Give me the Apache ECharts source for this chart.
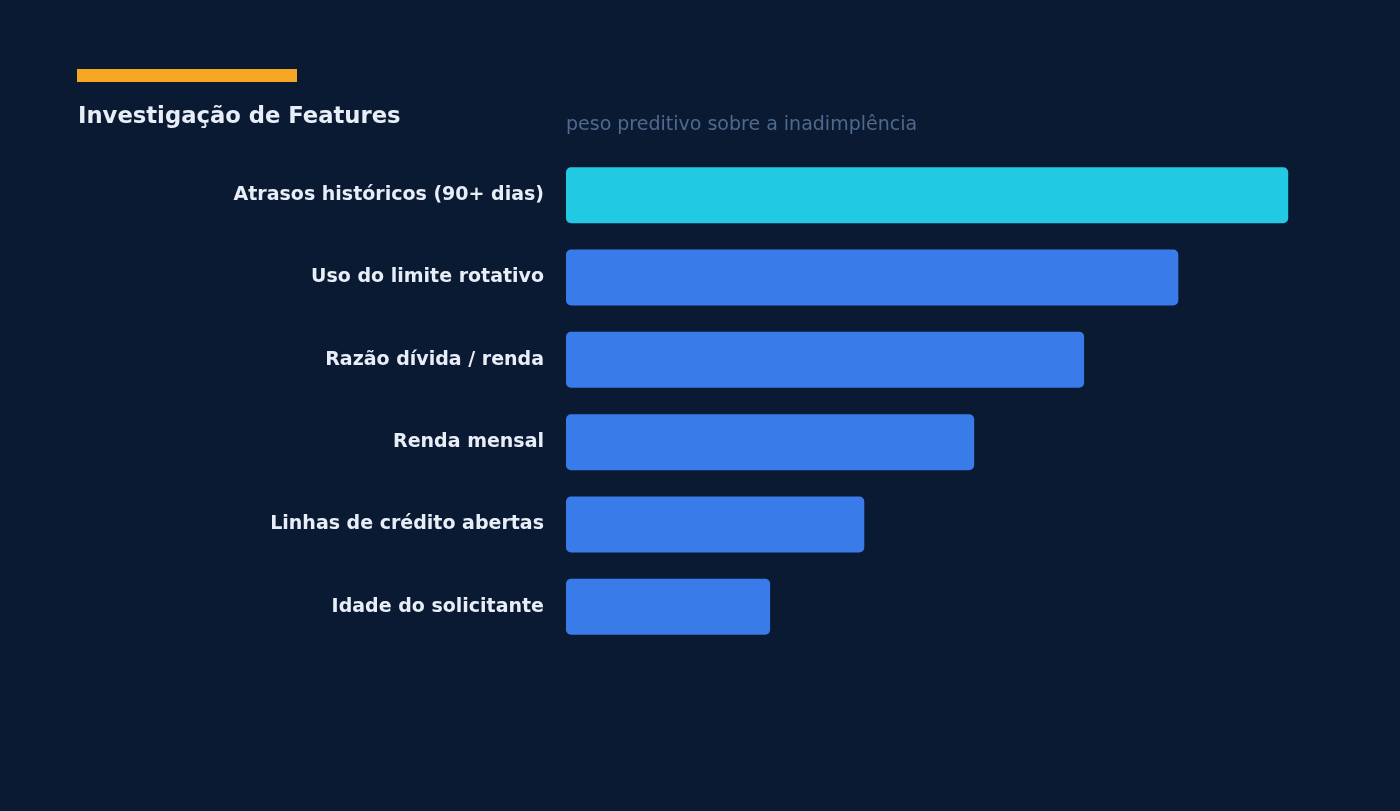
<!DOCTYPE html>
<html>
<head>
<meta charset="utf-8">
<script src="https://cdn.jsdelivr.net/npm/echarts@6/dist/echarts.min.js"></script>
<style>
  html, body { margin: 0; padding: 0; background: #0b1a33; }
  #chart { width: 1400px; height: 811px; }
</style>
</head>
<body>
<div id="chart"></div>
<script>
// categorias, de cima para baixo
var features = [
  'Atrasos históricos (90+ dias)',
  'Uso do limite rotativo',
  'Razão dívida / renda',
  'Renda mensal',
  'Linhas de crédito abertas',
  'Idade do solicitante'
];
// peso preditivo
var pesos = [92, 78, 66, 52, 38, 26];
var xMax = 100;

var barData = pesos.map(function (v, i) {
  return {
    value: v,
    itemStyle: { color: i === 0 ? '#22c9e3' : '#3a7bea' }
  };
});

var myChart = echarts.init(document.getElementById('chart'));
var option = {
  backgroundColor: '#0b1a33',
  animation: false,
  title: [
    {
      text: 'Investigação de Features',
      left: 78,
      top: 106,
      padding: 0,
      textStyle: {
        color: '#e8eef8',
        fontSize: 22.7,
        fontWeight: 'bold',
        fontFamily: 'DejaVu Sans'
      }
    },
    {
      text: 'peso preditivo sobre a inadimplência',
      left: 566,
      top: 116,
      padding: 0,
      textStyle: {
        color: '#4e6a8e',
        fontSize: 19,
        fontWeight: 'normal',
        fontFamily: 'DejaVu Sans'
      }
    }
  ],
  graphic: [
    {
      type: 'rect',
      shape: { x: 77, y: 69, width: 220, height: 13 },
      style: { fill: '#f5a623' }
    }
  ],
  grid: {
    left: 566,
    right: 49,
    top: 154,
    height: 494,
    containLabel: false
  },
  xAxis: {
    type: 'value',
    min: 0,
    max: xMax,
    show: false
  },
  yAxis: {
    type: 'category',
    inverse: true,
    data: features,
    axisLine: { show: false },
    axisTick: { show: false },
    splitLine: { show: false },
    axisLabel: {
      margin: 22,
      color: '#e8eef8',
      fontSize: 19,
      fontWeight: 'bold',
      fontFamily: 'DejaVu Sans'
    }
  },
  series: [
    {
      type: 'bar',
      data: barData,
      barWidth: '68%',
      itemStyle: { borderRadius: 5 }
    }
  ]
};
myChart.setOption(option);
</script>
</body>
</html>
